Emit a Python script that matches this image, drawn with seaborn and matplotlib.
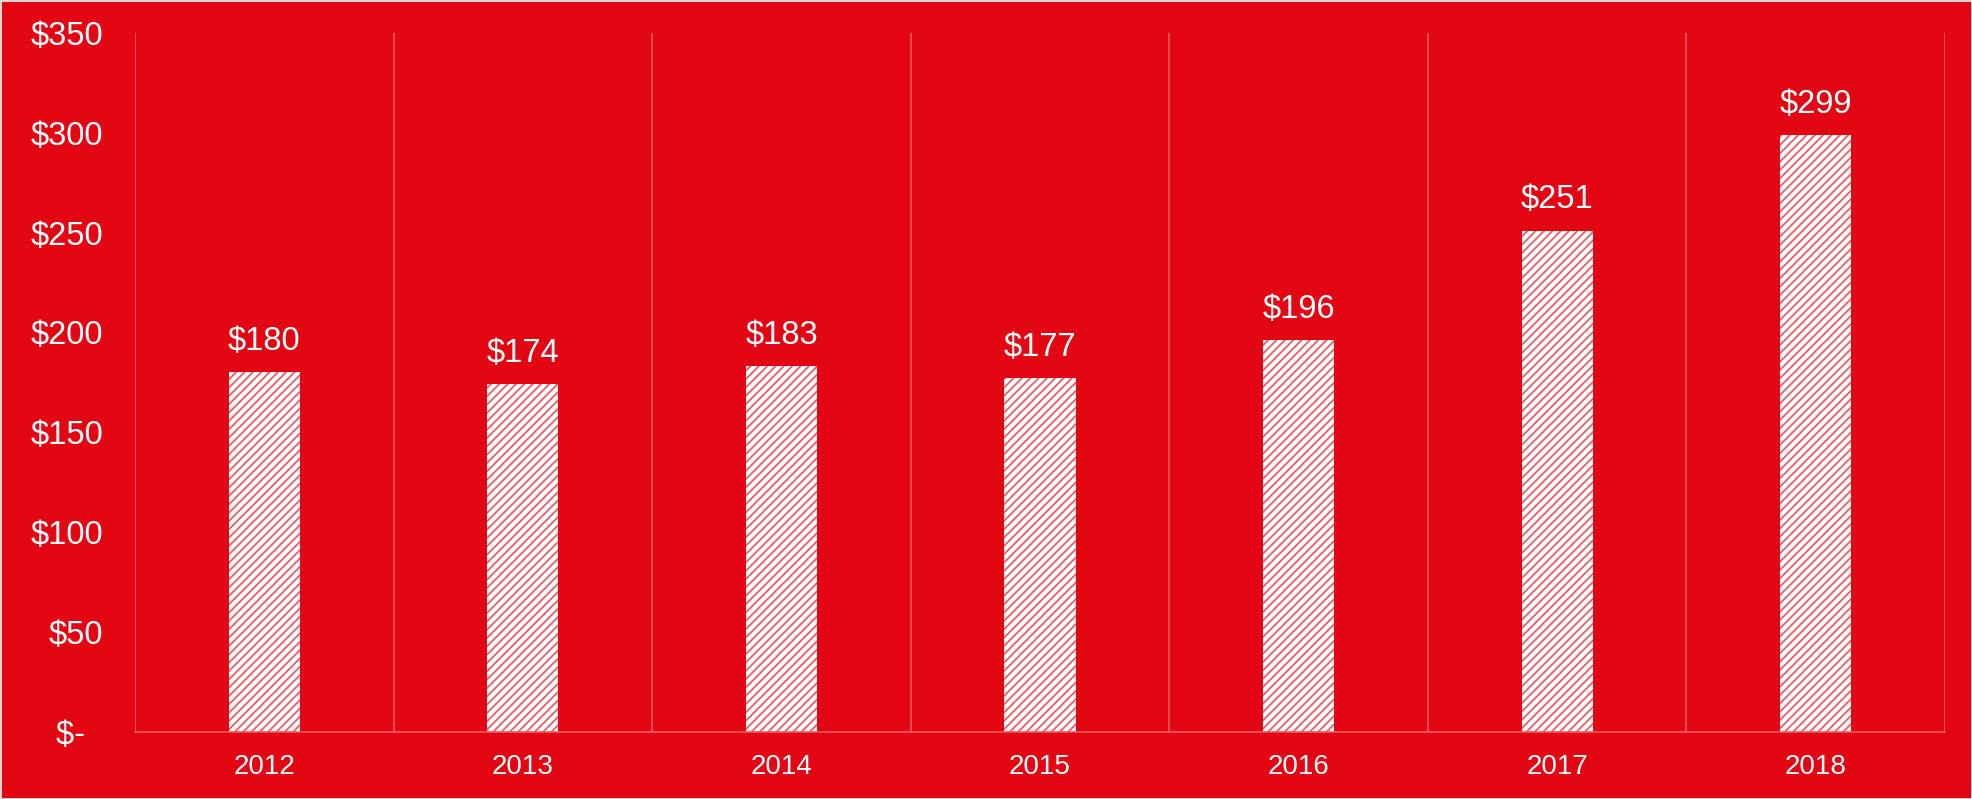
import matplotlib
matplotlib.use("Agg")
import matplotlib.pyplot as plt
import seaborn as sns
import pandas as pd
import numpy as np

# chart data
years = ["2012", "2013", "2014", "2015", "2016", "2017", "2018"]
values = [180, 174, 183, 177, 196, 251, 299]
y_ticks = [0, 50, 100, 150, 200, 250, 300, 350]

RED = "#E30613"
HATCH = "#EC5C66"
GRID = "#EE5A63"

sns.set_theme(style="white")
plt.rcParams["font.family"] = ["Liberation Sans", "DejaVu Sans"]
plt.rcParams["hatch.linewidth"] = 1.3

df = pd.DataFrame({"year": years, "value": values})

fig = plt.figure(figsize=(19.72, 7.99), dpi=100, facecolor=RED,
                 edgecolor="#D9D9D9", linewidth=2)
ax = fig.add_axes([0.0685, 0.0842, 0.9178, 0.8745])
ax.set_facecolor(RED)

sns.barplot(data=df, x="year", y="value", color="white", saturation=1,
            width=0.275, hatch="////", edgecolor=HATCH, linewidth=0, ax=ax)

ax.bar_label(ax.containers[0], labels=[f"${v}" for v in values],
             padding=11, color="white", fontsize=23.5)

ax.set_xlim(-0.5, len(years) - 0.5)
ax.set_ylim(0, 350)
ax.set_yticks(y_ticks)
ax.set_yticklabels([f"${t}" if t else "$-  " for t in y_ticks])
ax.set_xlabel("")
ax.set_ylabel("")

# vertical separators between categories
ax.set_xticks(np.arange(-0.5, len(years)), minor=True)
ax.grid(which="minor", axis="x", color=GRID, linewidth=1.2)
ax.grid(which="major", visible=False)
ax.tick_params(which="both", length=0)
ax.tick_params(axis="y", colors="white", labelsize=23.5, pad=23)
ax.tick_params(axis="x", colors="white", labelsize=20, pad=16)

for side in ["top", "left", "right"]:
    ax.spines[side].set_visible(False)
ax.spines["bottom"].set_color(GRID)
ax.spines["bottom"].set_linewidth(1.2)

fig.savefig("out.png", dpi=100, facecolor=RED, edgecolor="#D9D9D9")
